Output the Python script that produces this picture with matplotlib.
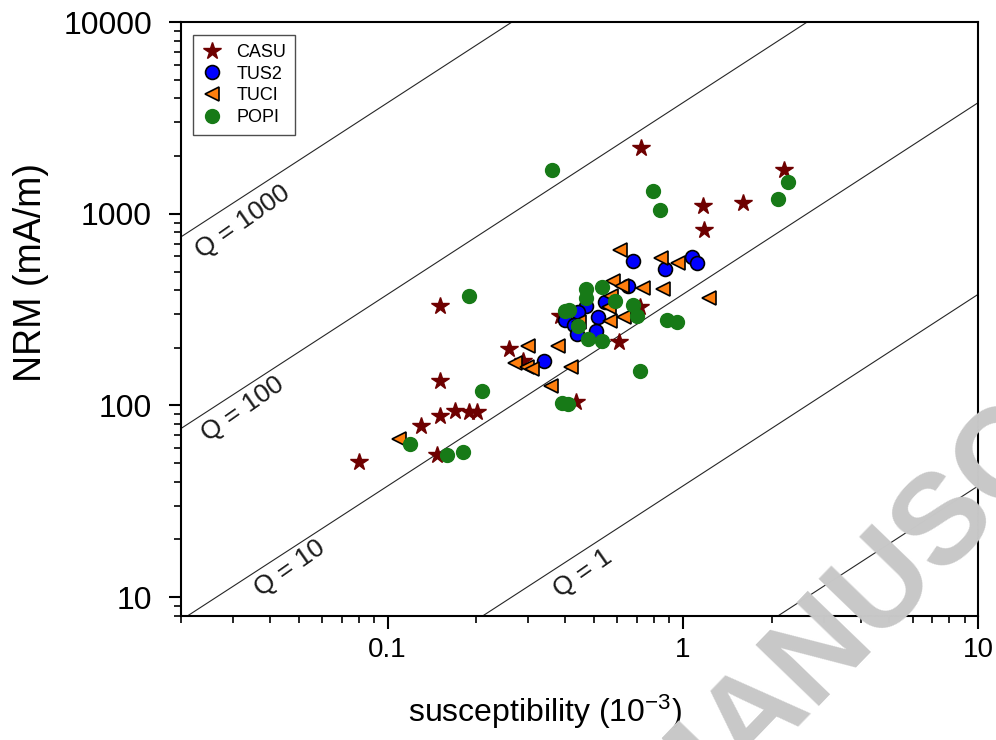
import numpy as np
import matplotlib
matplotlib.use("Agg")
import matplotlib.pyplot as plt
from matplotlib.ticker import FixedLocator, LogLocator, NullFormatter, FuncFormatter

plt.rcParams['font.family'] = ['Liberation Sans', 'DejaVu Sans']
plt.rcParams['mathtext.fontset'] = 'custom'
plt.rcParams['mathtext.rm'] = 'Liberation Sans'
plt.rcParams['mathtext.it'] = 'Liberation Sans'

# susceptibility (1e-3) and NRM (mA/m)
casu_k = [0.080, 0.130, 0.150, 0.150, 0.150, 0.169, 0.189, 0.201, 0.147, 0.258,
          0.288, 0.384, 0.435, 0.609, 0.717, 0.720, 1.17, 1.18, 1.60, 2.20]
casu_nrm = [51, 78, 88, 134, 330, 94, 92, 93, 55, 197,
            171, 292, 104, 214, 326, 2200, 1104, 828, 1145, 1700]

tus2_k = [0.339, 0.679, 0.871, 1.075, 1.118, 0.653, 0.545, 0.470, 0.442, 0.399,
          0.516, 0.428, 0.508, 0.439]
tus2_nrm = [171, 565, 513, 593, 552, 419, 346, 330, 307, 279,
            289, 262, 244, 236]

tuci_k = [0.613, 0.844, 0.964, 0.581, 0.623, 0.734, 0.857, 1.227, 0.572, 0.563,
          0.567, 0.633, 0.445, 0.299, 0.378, 0.270, 0.297, 0.309, 0.418, 0.358, 0.109]
tuci_nrm = [644, 586, 552, 444, 419, 409, 404, 363, 372, 326,
            275, 289, 272, 204, 204, 167, 159, 155, 159, 126, 67]

popi_k = [0.119, 0.159, 0.180, 0.209, 0.189, 0.361, 0.793, 0.838, 2.27, 2.10,
          0.470, 0.533, 0.470, 0.590, 0.679, 0.700, 0.399, 0.412, 0.442, 0.478,
          0.533, 0.885, 0.956, 0.717, 0.390, 0.409]
popi_nrm = [63, 55, 57, 119, 372, 1700, 1321, 1052, 1472, 1201,
            404, 414, 363, 350, 334, 292, 310, 314, 259, 222,
            217, 279, 272, 151, 103, 102]

q_values = [1000, 100, 10, 1, 0.1]
H_field = 38.0  # NRM = Q * k * H  (mA/m, k in 1e-3)

fig = plt.figure(figsize=(9.96, 7.4), dpi=100)
ax = fig.add_axes([0.182, 0.168, 0.8, 0.802])
ax.set_xscale('log')
ax.set_yscale('log')
ax.set_xlim(0.02, 10)
ax.set_ylim(8, 10000)

# Q lines
kk = np.array([0.02, 10])
for q in q_values:
    ax.plot(kk, q * kk * H_field, color='0.15', lw=0.8, zorder=1)

q_labels = [("Q = 1000", 0.0322, 912), ("Q = 100", 0.0323, 96),
            ("Q = 10", 0.0468, 14.1), ("Q = 1", 0.459, 13.3)]
for txt, xq, yq in q_labels:
    ax.text(xq, yq, txt, rotation=35, ha='center', va='center',
            rotation_mode='anchor', fontsize=19, color='0.1')

ax.plot(casu_k, casu_nrm, ls='none', marker='*', ms=13, color='#6e0000',
        mec='#6e0000', label='CASU', zorder=3)
ax.plot(tus2_k, tus2_nrm, ls='none', marker='o', ms=10, color='#0000ff',
        mec='black', mew=1.2, label='TUS2', zorder=4)
ax.plot(tuci_k, tuci_nrm, ls='none', marker='<', ms=10.5, color='#ff7f0e',
        mec='black', mew=1.2, label='TUCI', zorder=5)
ax.plot(popi_k, popi_nrm, ls='none', marker='o', ms=10, color='#177a17',
        mec='#177a17', label='POPI', zorder=6)

leg = ax.legend(loc='upper left', bbox_to_anchor=(0.015, 0.978), fontsize=13,
                fancybox=False, edgecolor='0.3', framealpha=1,
                handletextpad=0.8, borderpad=0.5, labelspacing=0.25,
                handlelength=1.1, borderaxespad=0)
leg.get_frame().set_linewidth(1.0)

ax.xaxis.set_major_locator(FixedLocator([0.1, 1, 10]))
ax.xaxis.set_minor_locator(LogLocator(base=10, subs=np.arange(2, 10)))
ax.xaxis.set_minor_formatter(NullFormatter())
ax.xaxis.set_major_formatter(FuncFormatter(lambda v, p: f"{v:g}"))
ax.yaxis.set_major_locator(FixedLocator([10, 100, 1000, 10000]))
ax.yaxis.set_minor_locator(LogLocator(base=10, subs=np.arange(2, 10)))
ax.yaxis.set_minor_formatter(NullFormatter())
ax.yaxis.set_major_formatter(FuncFormatter(lambda v, p: f"{v:g}"))

ax.tick_params(which='major', direction='out', length=9, width=1.5, pad=6)
ax.tick_params(which='minor', direction='out', length=5, width=1.2)
ax.tick_params(axis='x', which='major', labelsize=20)
ax.tick_params(axis='y', which='major', labelsize=23, pad=12)
for s in ax.spines.values():
    s.set_linewidth(1.5)

ax.set_xlabel(r"susceptibility (10$^{-3}$)", fontsize=23)
ax.xaxis.set_label_coords(0.457, -0.13)
ax.set_ylabel("NRM (mA/m)", fontsize=27)
ax.yaxis.set_label_coords(-0.166, 0.579)

# watermark
wm_x, wm_y = 0.728, -0.017
fig.text(wm_x, wm_y, "ACCEPTED M", rotation=46, rotation_mode='anchor',
         ha='right', va='center', fontsize=92, fontweight='bold', color='#c8c8c8')
fig.text(wm_x, wm_y, "ANUSCRIPT", rotation=46, rotation_mode='anchor',
         ha='left', va='center', fontsize=92, fontweight='bold', color='#c8c8c8')

fig.savefig("out.png", dpi=100)
